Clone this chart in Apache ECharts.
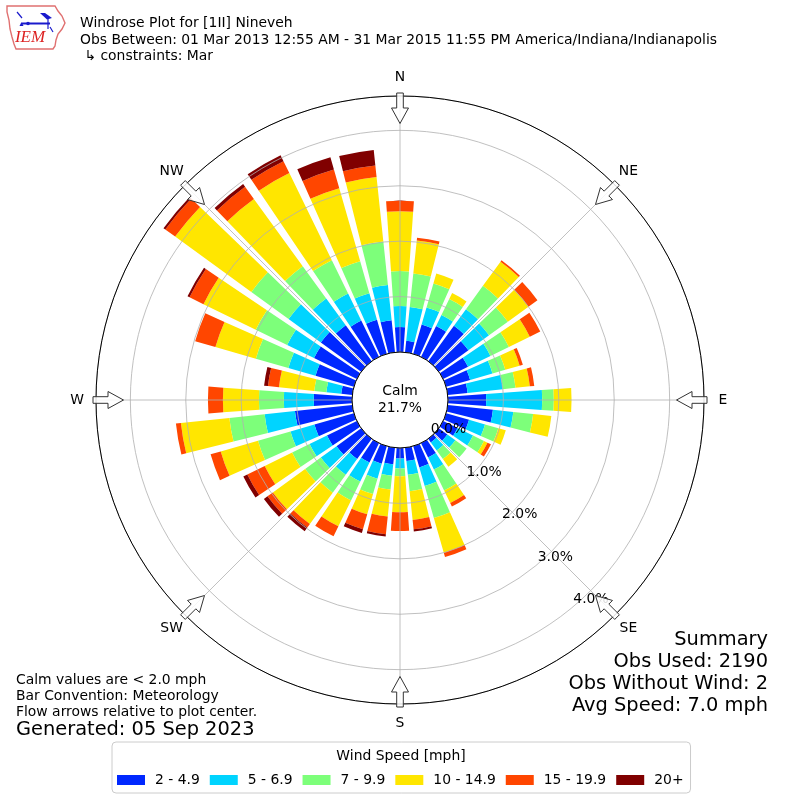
<!DOCTYPE html>
<html>
<head>
<meta charset="utf-8">
<script src="https://cdn.jsdelivr.net/npm/echarts@6/dist/echarts.min.js"></script>
<style>
html,body{margin:0;padding:0;background:#ffffff;}
#c{width:800px;height:800px;}
</style>
</head>
<body>
<div id="c"></div>
<script>
// ---------------- data ----------------
const directions = [0,10,20,30,40,50,60,70,80,90,100,110,120,130,140,150,160,170,
                    180,190,200,210,220,230,240,250,260,270,280,290,300,310,320,330,340,350];
const speedBins = ['2 - 4.9','5 - 6.9','7 - 9.9','10 - 14.9','15 - 19.9','20+'];
const speedColors = ['#0028ff','#00d4ff','#7dff7a','#ffe600','#ff4600','#800000'];

const pct_2_5   = [0.45,0.21,0.55,0.62,0.79,0.66,0.50,0.45,0.36,0.69,0.82,0.43,0.29,0.19,0.08,0.29,0.40,0.24,
                   0.19,0.30,0.33,0.39,0.45,0.55,0.60,0.74,1.04,0.69,0.20,0.72,0.86,0.90,0.80,0.73,0.64,0.58];
const pct_5_7   = [0.38,0.61,0.32,0.22,0.37,0.46,0.45,0.42,0.64,1.01,0.37,0.30,0.31,0.18,0.18,0.24,0.35,0.25,
                   0.18,0.21,0.28,0.38,0.35,0.35,0.35,0.45,0.55,0.54,0.27,0.51,0.54,0.72,0.60,0.54,0.50,0.64];
const pct_7_10  = [0.63,0.61,0.45,0.32,0.52,0.42,0.37,0.24,0.23,0.21,0.36,0.25,0.22,0.25,0.19,0.42,0.60,0.30,
                   0.14,0.25,0.29,0.38,0.40,0.35,0.35,0.61,0.64,0.45,0.22,0.61,0.63,0.83,0.72,0.67,0.60,0.79];
const pct_10_15 = [1.08,0.60,0.19,0.12,0.54,0.46,0.42,0.27,0.26,0.32,0.33,0.14,0.07,0.00,0.17,0.25,0.65,0.52,
                   0.65,0.49,0.38,0.52,0.70,0.72,0.55,0.70,0.88,0.65,0.64,0.76,1.05,1.70,1.50,1.75,1.37,1.17];
const pct_15_20 = [0.19,0.05,0.00,0.00,0.03,0.20,0.21,0.06,0.08,0.00,0.00,0.00,0.07,0.00,0.00,0.07,0.08,0.17,
                   0.34,0.32,0.28,0.20,0.08,0.12,0.35,0.19,0.09,0.27,0.20,0.38,0.28,0.22,0.27,0.24,0.35,0.21];
const pct_20up  = [0.00,0.00,0.00,0.00,0.00,0.00,0.00,0.00,0.00,0.00,0.00,0.00,0.00,0.00,0.00,0.00,0.00,0.04,
                   0.00,0.04,0.07,0.00,0.08,0.08,0.08,0.00,0.00,0.00,0.07,0.00,0.04,0.04,0.06,0.12,0.23,0.28];
const binData = [pct_2_5, pct_5_7, pct_7_10, pct_10_15, pct_15_20, pct_20up];

const compassLabels = ['N','NE','E','SE','S','SW','W','NW'];
const compassAngles = [0,45,90,135,180,225,270,315];
const calmText = ['Calm','21.7%'];
const headerLines = ['Windrose Plot for [1II] Nineveh',
  'Obs Between: 01 Mar 2013 12:55 AM - 31 Mar 2015 11:55 PM America/Indiana/Indianapolis',
  ' \u21b3 constraints: Mar'];
const noteLines = ['Calm values are < 2.0 mph','Bar Convention: Meteorology','Flow arrows relative to plot center.'];
const generatedText = 'Generated: 05 Sep 2023';
const summaryLines = ['Summary','Obs Used: 2190','Obs Without Wind: 2','Avg Speed: 7.0 mph'];
const legendTitle = 'Wind Speed [mph]';

// ---------------- layout ----------------
const FONT = 'DejaVu Sans';
const CX = 400, CY = 400, R_IN = 48, R_OUT = 304, R_MAX = 4.62, R_LABEL = 323;
const FS = 13.9, FS_BIG = 19.4;

function arrowPoints(deg) {
  const t = deg * Math.PI / 180;
  const ux = Math.sin(t), uy = -Math.cos(t);
  const vx = Math.cos(t), vy = Math.sin(t);
  const pts = [[307,-3.3],[292,-3.3],[292,-8.5],[276.5,0],[292,8.5],[292,3.3],[307,3.3]];
  return pts.map(([r,w]) => [CX + r*ux + w*vx, CY + r*uy + w*vy]);
}

const graphics = [];
compassAngles.forEach((a, i) => {
  graphics.push({type:'polygon', z:100, shape:{points: arrowPoints(a)},
    style:{fill:'rgba(255,255,255,0.85)', stroke:'#333333', lineWidth:1}});
  const t = a * Math.PI / 180;
  graphics.push({type:'text', z:100, style:{x: CX + R_LABEL*Math.sin(t), y: CY - R_LABEL*Math.cos(t),
    text: compassLabels[i], align:'center', verticalAlign:'middle', font:FS+'px "'+FONT+'"', fill:'#000'}});
});
// calm text
graphics.push({type:'text', z:100, style:{x:CX, y:391, text:calmText[0], align:'center', verticalAlign:'middle', font:FS+'px "'+FONT+'"', fill:'#000'}});
graphics.push({type:'text', z:100, style:{x:CX, y:408, text:calmText[1], align:'center', verticalAlign:'middle', font:FS+'px "'+FONT+'"', fill:'#000'}});
// header
[23,40,56].forEach((y,i) => {
  graphics.push({type:'text', z:100, style:{x:80, y:y, text:headerLines[i], align:'left', verticalAlign:'middle', font:FS+'px "'+FONT+'"', fill:'#000'}});
});
// notes bottom-left
[680,696,712].forEach((y,i) => {
  graphics.push({type:'text', z:100, style:{x:16, y:y, text:noteLines[i], align:'left', verticalAlign:'middle', font:FS+'px "'+FONT+'"', fill:'#000'}});
});
graphics.push({type:'text', z:100, style:{x:16, y:730, text:generatedText, align:'left', verticalAlign:'middle', font:FS_BIG+'px "'+FONT+'"', fill:'#000'}});
// summary
[640,662,684,706].forEach((y,i) => {
  graphics.push({type:'text', z:100, style:{x:768, y:y, text:summaryLines[i], align:'right', verticalAlign:'middle', font:FS_BIG+'px "'+FONT+'"', fill:'#000'}});
});
// legend title
graphics.push({type:'text', z:120, style:{x:401, y:756, text:legendTitle, align:'center', verticalAlign:'middle', font:FS+'px "'+FONT+'"', fill:'#000'}});
// IEM logo (decoration)
graphics.push({type:'polygon', z:100, shape:{points:[[7,6],[55,6],[58,11],[62,16],[65,23],[62,29],[58,34],[56,40],[55,46],[53,49],[16,49],[14,44],[12,37],[10,29],[9,20],[7,12]]},
  style:{fill:'none', stroke:'#e07070', lineWidth:1.4}});
graphics.push({type:'text', z:101, style:{x:30, y:38, text:'IEM', align:'center', verticalAlign:'middle', font:'italic 17px "Liberation Serif"', fill:'#dd2222'}});
graphics.push({type:'line', z:101, shape:{x1:22,y1:23.5,x2:50,y2:23.5}, style:{stroke:'#1a1acc', lineWidth:2}});
graphics.push({type:'line', z:101, shape:{x1:17,y1:12,x2:22,y2:18}, style:{stroke:'#1a1acc', lineWidth:1.2}});
graphics.push({type:'polygon', z:101, shape:{points:[[19.5,26],[21.5,22],[23.5,26]]}, style:{fill:'#1a1acc'}});
graphics.push({type:'circle', z:101, shape:{cx:28,cy:23.5,r:1.8}, style:{fill:'#1a1acc'}});
graphics.push({type:'polygon', z:101, shape:{points:[[40,13],[45,13],[52,18],[47,19.5]]}, style:{fill:'#1a1acc'}});
graphics.push({type:'line', z:101, shape:{x1:48,y1:19,x2:48,y2:29}, style:{stroke:'#1a1acc', lineWidth:1.2}});
graphics.push({type:'line', z:101, shape:{x1:50,y1:27,x2:53,y2:32}, style:{stroke:'#1a1acc', lineWidth:1.2}});

const hiddenAxis = {axisLine:{show:false}, axisTick:{show:false}, axisLabel:{show:false}, splitLine:{show:false}};

const option = {
  animation: false,
  backgroundColor: '#ffffff',
  textStyle: {fontFamily: FONT},
  polar: [
    {center:[CX,CY], radius:[R_IN,R_OUT]},
    {center:[CX,CY], radius:[R_IN,R_OUT]},
    {center:[CX,CY], radius:[R_IN,R_OUT]},
    {center:[CX,CY], radius:[0,R_IN]},
    {center:[CX,CY], radius:[0,R_OUT]}
  ],
  angleAxis: [
    Object.assign({polarIndex:0, type:'category', data:directions.map(String), startAngle:95, clockwise:true, boundaryGap:true}, hiddenAxis),
    {polarIndex:1, type:'value', min:0, max:360, interval:45, startAngle:90, clockwise:true, z:10,
      axisLine:{show:false}, axisTick:{show:false}, axisLabel:{show:false},
      splitLine:{show:true, lineStyle:{color:'#b0b0b0', width:0.8}}},
    Object.assign({polarIndex:2, type:'value', min:0, max:360, startAngle:-50, clockwise:true}, hiddenAxis),
    {polarIndex:3, type:'value', min:0, max:360, startAngle:90, z:12,
      axisLine:{show:true, lineStyle:{color:'#000', width:1}}, axisTick:{show:false}, axisLabel:{show:false}, splitLine:{show:false}},
    {polarIndex:4, type:'value', min:0, max:360, startAngle:90, z:12,
      axisLine:{show:true, lineStyle:{color:'#000', width:1}}, axisTick:{show:false}, axisLabel:{show:false}, splitLine:{show:false}}
  ],
  radiusAxis: [
    Object.assign({polarIndex:0, type:'value', min:0, max:R_MAX}, hiddenAxis),
    {polarIndex:1, type:'value', min:0, max:R_MAX, interval:1, z:10,
      axisLine:{show:false}, axisTick:{show:false}, axisLabel:{show:false},
      splitLine:{show:true, lineStyle:{color:'#b0b0b0', width:0.8}}},
    {polarIndex:2, type:'value', min:0, max:R_MAX, interval:1, z:13,
      axisLine:{show:false}, axisTick:{show:false}, splitLine:{show:false},
      axisLabel:{show:true, margin:0, align:'left', verticalAlign:'bottom', showMaxLabel:false, showMinLabel:true,
        color:'#000', fontSize:FS, fontFamily:FONT, formatter: v => v.toFixed(1) + '%'}},
    Object.assign({polarIndex:3, type:'value', min:0, max:1}, hiddenAxis),
    Object.assign({polarIndex:4, type:'value', min:0, max:1}, hiddenAxis)
  ],
  legend: {
    data: speedBins, left:112, top:742, orient:'horizontal', icon:'rect',
    itemWidth:28, itemHeight:10, itemGap:10, padding:[31,7,6,5],
    borderColor:'#cccccc', borderWidth:1, borderRadius:4, backgroundColor:'#ffffff',
    selectedMode:false,
    textStyle:{fontSize:FS, color:'#000', fontFamily:FONT, padding:[0,0,0,5]}
  },
  series: speedBins.map((name,i) => ({
    name: name, type:'bar', coordinateSystem:'polar', polarIndex:0, stack:'wind',
    data: binData[i], barWidth:'80%', itemStyle:{color: speedColors[i]}, z:2
  })),
  graphic: graphics
};

const chart = echarts.init(document.getElementById('c'));
chart.setOption(option);
</script>
</body>
</html>
